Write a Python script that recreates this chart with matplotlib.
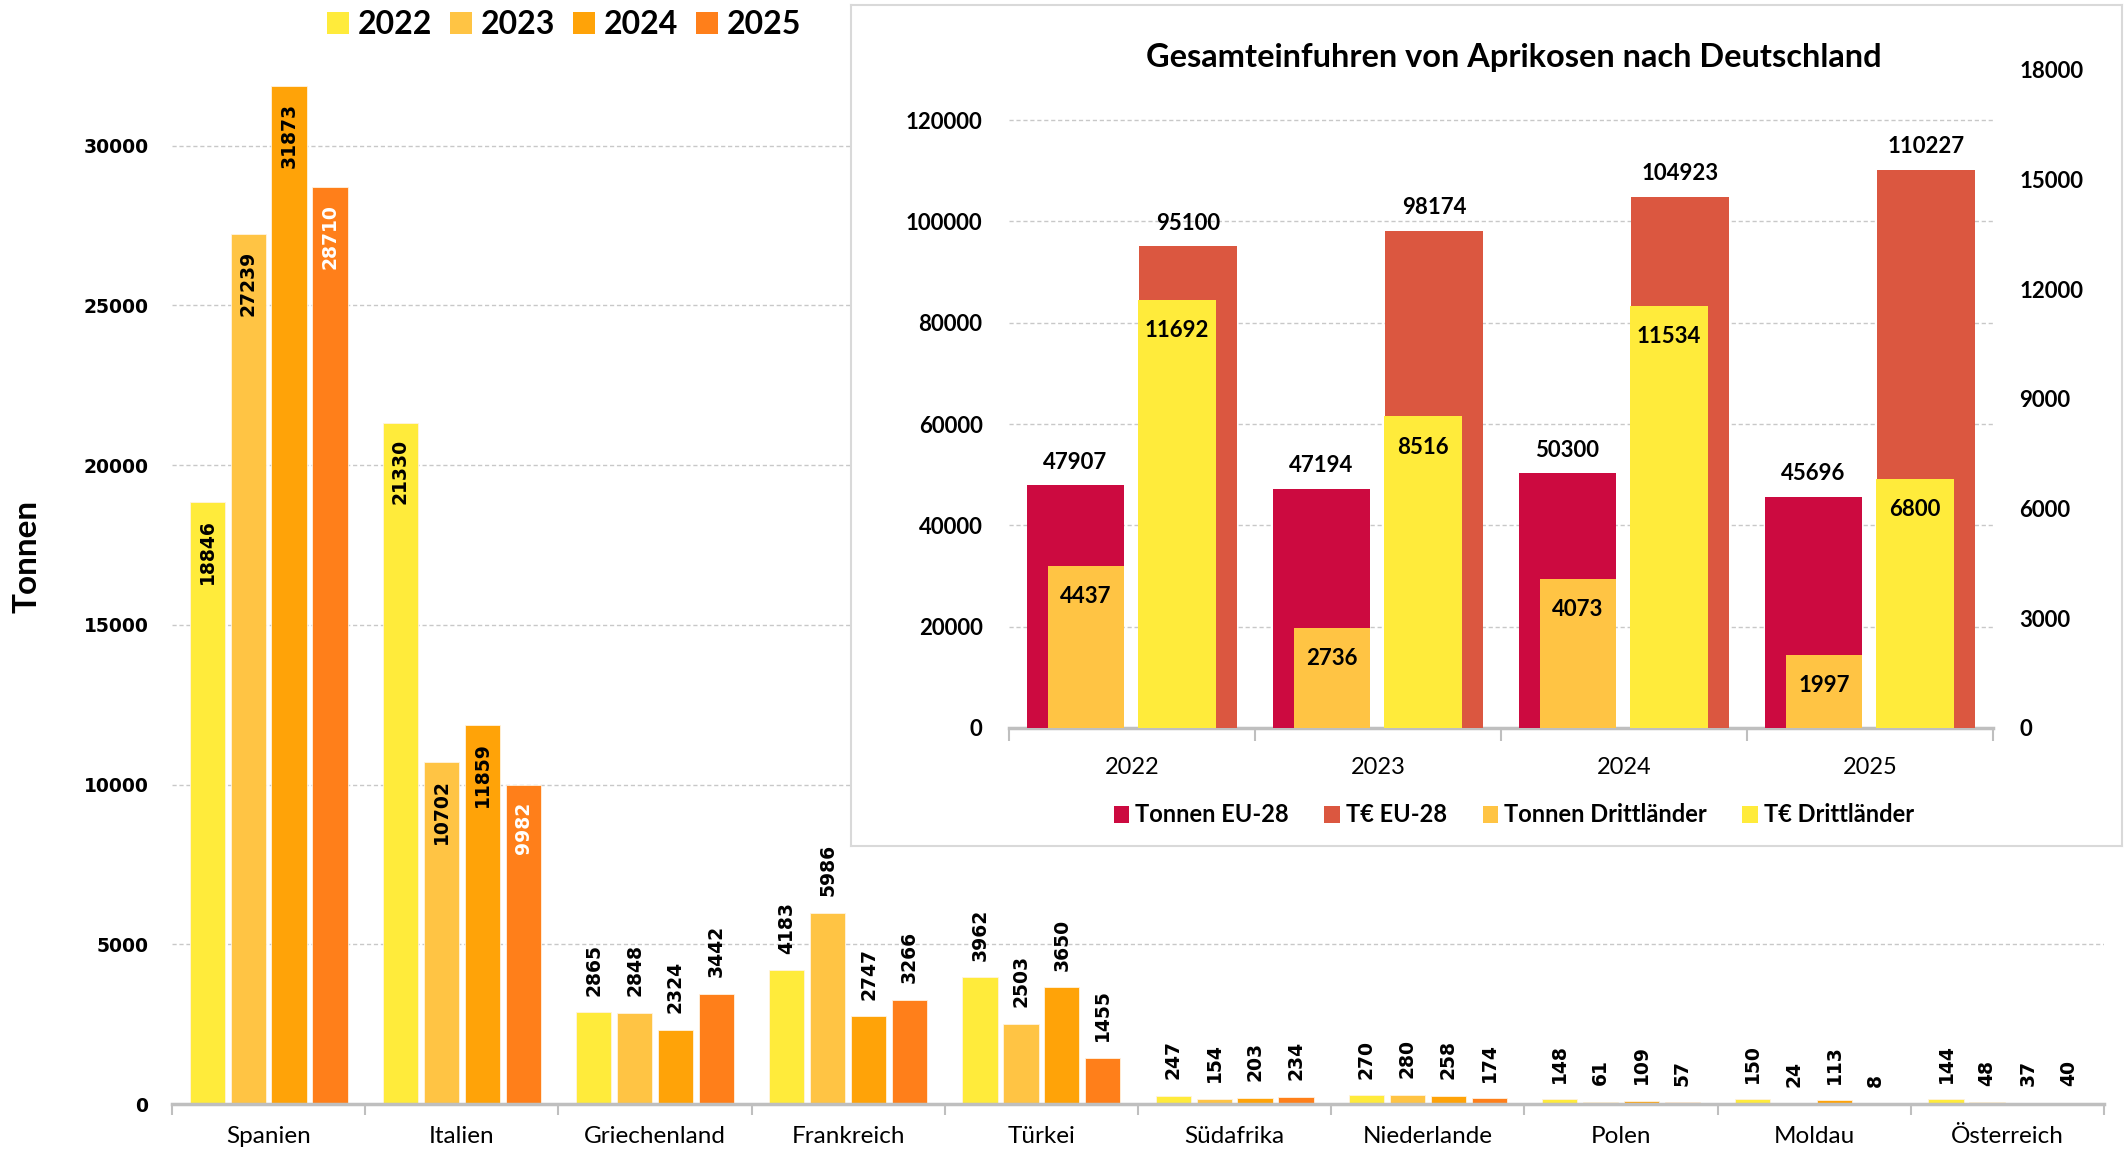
import matplotlib
matplotlib.use("Agg")
import matplotlib.pyplot as plt
import numpy as np
from matplotlib.patches import Patch

# ---------------- data ----------------
countries = ["Spanien", "Italien", "Griechenland", "Frankreich", "Türkei",
             "Südafrika", "Niederlande", "Polen", "Moldau", "Österreich"]
years = ["2022", "2023", "2024", "2025"]
t2022 = [18846, 21330, 2865, 4183, 3962, 247, 270, 148, 150, 144]
t2023 = [27239, 10702, 2848, 5986, 2503, 154, 280, 61, 24, 48]
t2024 = [31873, 11859, 2324, 2747, 3650, 203, 258, 109, 113, 37]
t2025 = [28710, 9982, 3442, 3266, 1455, 234, 174, 57, 8, 40]
main_yticks = [0, 5000, 10000, 15000, 20000, 25000, 30000]

inset_years = ["2022", "2023", "2024", "2025"]
tonnen_eu = [47907, 47194, 50300, 45696]
teur_eu = [95100, 98174, 104923, 110227]
tonnen_dritt = [4437, 2736, 4073, 1997]
teur_dritt = [11692, 8516, 11534, 6800]
inset_left_ticks = [0, 20000, 40000, 60000, 80000, 100000, 120000]
inset_right_ticks = [0, 3000, 6000, 9000, 12000, 15000, 18000]
inset_title = "Gesamteinfuhren von Aprikosen nach Deutschland"
inset_labels = ["Tonnen EU-28", "T€ EU-28", "Tonnen Drittländer", "T€ Drittländer"]

year_colors = ["#FFEB3B", "#FFC444", "#FFA308", "#FF7F1A"]
c_teu = "#CC0A40"
c_eeu = "#DB5740"
c_tdr = "#FFC444"
c_edr = "#FFEB3B"
grid_c = "#C8C8C8"
axis_c = "#BFBFBF"

W, H = 2128, 1151
fig = plt.figure(figsize=(W / 100, H / 100), dpi=100)

def fx(px):
    return px / W

def fy(py):
    return 1 - py / H

# ---------------- main chart ----------------
ax = fig.add_axes([fx(172), fy(1104), fx(2104) - fx(172), (1104 - 18) / H])
ax.set_xlim(-0.5, len(countries) - 0.5)
ax.set_ylim(0, 34000)
x = np.arange(len(countries))
series = [t2022, t2023, t2024, t2025]
slot = 0.212
bw = 0.182
num_font = dict(family="DejaVu Sans", fontweight="bold", fontsize=13.5)
for k, vals in enumerate(series):
    xs = x + (k - 1.5) * slot
    ax.bar(xs, vals, width=bw, color=year_colors[k], zorder=3,
           edgecolor="#FFF3E0", linewidth=0.6)
    for xi, v in zip(xs, vals):
        if v > 9000:
            col = "white" if k == 3 else "black"
            ax.annotate(str(v), xy=(xi, v), xytext=(0, -12), textcoords="offset points",
                        rotation=90, ha="center", va="top", color=col, zorder=4, **num_font)
        else:
            ax.annotate(str(v), xy=(xi, v), xytext=(0, 12), textcoords="offset points",
                        rotation=90, ha="center", va="bottom", color="black", zorder=4, **num_font)

ax.set_yticks(main_yticks)
ax.set_yticklabels([str(t) for t in main_yticks], **num_font)
ax.tick_params(axis="y", length=0, pad=17)
ax.set_xticks(x)
ax.set_xticklabels(countries, family="Lato", fontsize=17.5)
ax.tick_params(axis="x", length=0, pad=16)
ax.set_xticks(np.arange(-0.5, len(countries), 1.0), minor=True)
ax.tick_params(axis="x", which="minor", length=8, width=1.5, color=axis_c)
ax.yaxis.grid(True, linestyle=(0, (3, 2)), color=grid_c, linewidth=1.0, zorder=0)
ax.set_axisbelow(True)
for s in ["top", "right", "left"]:
    ax.spines[s].set_visible(False)
ax.spines["bottom"].set_color(axis_c)
ax.spines["bottom"].set_linewidth(2.5)
ax.spines["bottom"].set_zorder(5)

fig.text(fx(27), fy(556), "Tonnen", rotation=90, ha="center", va="center",
         family="Lato", fontweight="bold", fontsize=24)

handles = [Patch(facecolor=c, edgecolor="none") for c in year_colors]
fig.legend(handles, years, loc="center left", bbox_to_anchor=(fx(327), fy(25)),
           ncol=4, frameon=False, borderpad=0, borderaxespad=0,
           handlelength=0.69, handleheight=0.69, handletextpad=0.28, columnspacing=0.55,
           prop=dict(family="Lato", weight="bold", size=23))

# ---------------- inset ----------------
box = fig.add_axes([fx(851), fy(846), fx(2122) - fx(851), (846 - 5) / H], zorder=5)
box.set_facecolor("white")
box.set_xticks([])
box.set_yticks([])
for s in box.spines.values():
    s.set_color("#D9D9D9")
    s.set_linewidth(1.5)

iax = fig.add_axes([fx(1009), fy(728), fx(1993) - fx(1009), (728 - 69.5) / H], zorder=6)
iax.set_facecolor("none")
ix = np.arange(len(inset_years))
iax.set_xlim(-0.5, len(inset_years) - 0.5)
iax.set_ylim(0, 130000)
lab_font = dict(family="Lato", fontweight="bold", fontsize=16)
iax.bar(ix - 0.23, tonnen_eu, width=0.395, color=c_teu, zorder=3)
iax.bar(ix + 0.228, teur_eu, width=0.398, color=c_eeu, zorder=3)
for xi, v in zip(ix - 0.23, tonnen_eu):
    iax.annotate(str(v), xy=(xi, v), xytext=(0, 9), textcoords="offset points",
                 ha="center", va="bottom", **lab_font)
for xi, v in zip(ix + 0.228, teur_eu):
    iax.annotate(str(v), xy=(xi, v), xytext=(0, 9), textcoords="offset points",
                 ha="center", va="bottom", **lab_font)
iax.set_yticks(inset_left_ticks)
iax.set_yticklabels([str(t) for t in inset_left_ticks], **lab_font)
iax.tick_params(axis="y", length=0, pad=19)
iax.set_xticks(ix)
iax.set_xticklabels(inset_years, family="Lato", fontsize=17)
iax.tick_params(axis="x", length=0, pad=21)
iax.set_xticks(np.arange(-0.5, len(inset_years), 1.0), minor=True)
iax.tick_params(axis="x", which="minor", length=9, width=1.5, color=axis_c)
iax.yaxis.grid(True, linestyle=(0, (3, 2)), color=grid_c, linewidth=1.0, zorder=0)
iax.set_axisbelow(True)
for s in ["top", "right", "left"]:
    iax.spines[s].set_visible(False)
iax.spines["bottom"].set_color(axis_c)
iax.spines["bottom"].set_linewidth(2.5)

iax2 = iax.twinx()
iax2.set_zorder(7)
iax2.patch.set_visible(False)
iax2.set_ylim(0, 18000)
iax2.bar(ix - 0.187, tonnen_dritt, width=0.31, color=c_tdr, zorder=3)
iax2.bar(ix + 0.183, teur_dritt, width=0.317, color=c_edr, zorder=3)
for xi, v in zip(ix - 0.187, tonnen_dritt):
    iax2.annotate(str(v), xy=(xi, v), xytext=(0, -22), textcoords="offset points",
                  ha="center", va="center", **lab_font)
for xi, v in zip(ix + 0.183, teur_dritt):
    iax2.annotate(str(v), xy=(xi, v), xytext=(0, -22), textcoords="offset points",
                  ha="center", va="center", **lab_font)
iax2.set_yticks(inset_right_ticks)
iax2.set_yticklabels([str(t) for t in inset_right_ticks], **lab_font)
iax2.tick_params(axis="y", length=0, pad=19)
for s in iax2.spines.values():
    s.set_visible(False)

fig.text(fx(1514), fy(57), inset_title, ha="center", va="center",
         family="Lato", fontweight="bold", fontsize=23.4, zorder=8)

ih = [Patch(facecolor=c, edgecolor="none") for c in [c_teu, c_eeu, c_tdr, c_edr]]
leg2 = fig.legend(ih, inset_labels, loc="center", bbox_to_anchor=(fx(1514), fy(815)),
                  ncol=4, frameon=False, borderpad=0, borderaxespad=0,
                  handlelength=0.64, handleheight=0.72, handletextpad=0.28, columnspacing=1.5,
                  prop=dict(family="Lato", weight="bold", size=17))
leg2.set_zorder(8)

fig.savefig("out.png", dpi=100)
